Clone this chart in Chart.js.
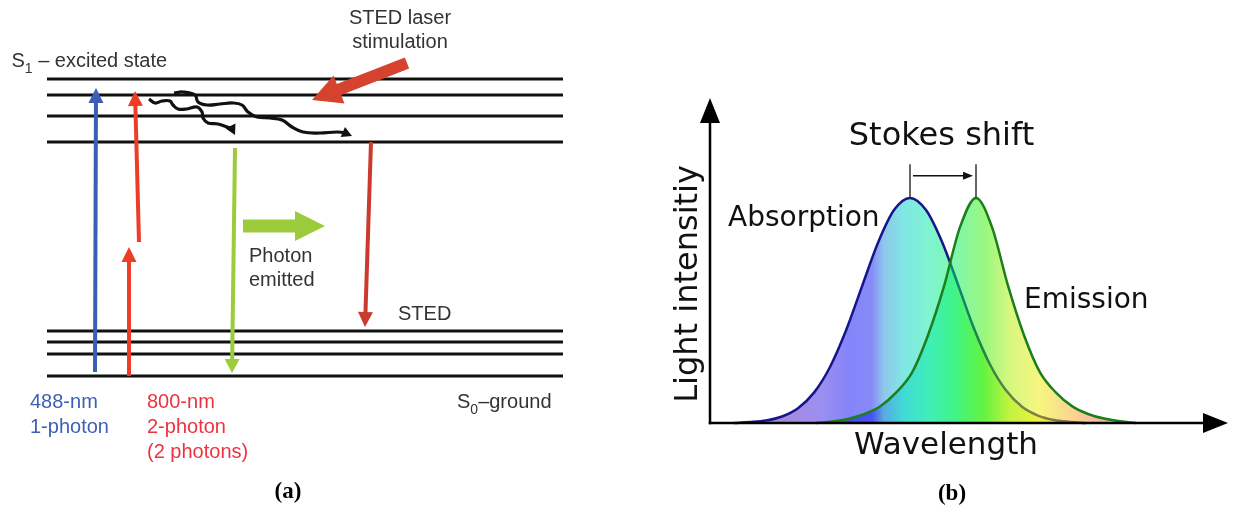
<!DOCTYPE html>
<html>
<head>
<meta charset="utf-8">
<title>STED energy levels and Stokes shift</title>
<script src="https://cdn.jsdelivr.net/npm/chart.js@4.4.1/dist/chart.umd.min.js"></script>
<style>
    html, body { margin: 0; padding: 0; background: #fff; }
    #wrap { position: relative; width: 1233px; height: 505px; overflow: hidden; }
    #levelsChart { position: absolute; left: 0; top: 0; }
    #stokesChart { position: absolute; left: 620px; top: 0; }
</style>
</head>
<body>
<div id="wrap">
    <canvas id="levelsChart" width="620" height="505"></canvas>
    <canvas id="stokesChart" width="613" height="505"></canvas>
</div>
<script>
// --- Panel (a): energy levels (arbitrary energy units) ---
const levelsS0 = [0, 2.2, 3.4, 4.5];
const levelsS1 = [23.4, 26.0, 28.1, 29.7];
const levelRange = [4.7, 56.3];

// transitions, [position, energy]
const blue488 = [[9.5, 0.4], [9.6, 28.8]];
const red800Low = [[12.9, 0], [12.9, 12.9]];
const red800High = [[13.9, 13.4], [13.5, 28.5]];
const greenEmit = [[23.5, 22.8], [23.2, 0.3]];
const photonOut = [[24.3, 15.0], [32.5, 15.0]];
const stedDown = [[37.1, 23.4], [36.5, 4.9]];
const stedLaser = [[40.7, 31.3], [31.2, 27.6]];
const relaxShort = [[14.9, 27.7], [15.5, 27.3], [16.2, 27.5], [17.0, 27.5], [17.3, 27.1], [17.8, 26.7],
    [18.7, 26.7], [19.7, 26.9], [20.2, 26.4], [20.3, 25.8], [20.8, 25.3], [21.8, 25.2], [22.7, 24.9],
    [23.2, 24.7], [23.5, 24.1]];
const relaxLong = [[17.4, 28.3], [18.3, 28.4], [19.5, 28.1], [19.8, 27.4], [20.7, 27.1], [22.0, 27.2],
    [23.3, 27.3], [24.2, 27.1], [24.8, 26.4], [25.7, 25.9], [27.0, 25.8], [28.2, 25.6], [29.2, 24.9],
    [30.3, 24.4], [32.0, 24.3], [33.7, 24.4], [34.5, 24.3], [35.2, 24.0]];

// --- Panel (b): spectra (wavelength nm, relative intensity) ---
const wavelengthAbs = [362, 370, 378, 386, 394, 402, 410, 418, 426, 434, 442, 450, 458, 466, 474, 482, 490, 498, 506, 514, 522, 530, 538];
const absorption = [0, 0.004, 0.011, 0.029, 0.066, 0.135, 0.249, 0.411, 0.607, 0.801, 0.946, 1, 0.946, 0.805, 0.615, 0.42, 0.26, 0.145, 0.072, 0.033, 0.013, 0.005, 0];
const wavelengthEm = [403, 411, 419, 427, 435, 443, 451, 459, 467, 475, 483, 491, 499, 507, 515, 523, 531, 539, 547, 555, 563];
const emission = [0, 0.007, 0.018, 0.039, 0.073, 0.135, 0.224, 0.39, 0.607, 0.87, 1, 0.87, 0.61, 0.39, 0.225, 0.135, 0.075, 0.04, 0.02, 0.008, 0];
const peakAbs = 450;
const peakEm = 483;

// spectrum colours used for the fills (nm -> rgb)
const spectrumStops = [
    [375, '90,10,160'], [405, '58,32,224'], [420, '10,10,245'], [431, '16,24,240'],
    [437, '32,144,216'], [447, '0,208,200'], [460, '0,234,160'], [472, '0,240,96'],
    [487, '48,240,0'], [500, '176,240,0'], [515, '236,236,0'], [530, '248,176,32'],
    [545, '248,112,64'], [565, '248,104,72']
];

const pts = arr => arr.map(([x, y]) => ({ x, y }));

// --- arrow heads: clip the line under the head, then draw the head ---
function headGeometry(chart, index) {
    const ds = chart.data.datasets[index];
    const items = chart.getDatasetMeta(index).data;
    const n = items.length;
    if (!ds.head || n < 2) return null;
    const tip = items[n - 1];
    let fx = items[n - 2].x, fy = items[n - 2].y;
    if (tip.cp1x !== undefined && Math.hypot(tip.x - tip.cp1x, tip.y - tip.cp1y) > 0.5) {
        fx = tip.cp1x;
        fy = tip.cp1y;
    }
    const d = Math.hypot(tip.x - fx, tip.y - fy) || 1;
    const ux = (tip.x - fx) / d, uy = (tip.y - fy) / d;
    return { tx: tip.x, ty: tip.y, ux, uy, nx: -uy, ny: ux, len: ds.head.len, wid: ds.head.width, color: ds.borderColor };
}

const arrowHeads = {
    id: 'arrowHeads',
    beforeDatasetDraw(chart, args) {
        const g = headGeometry(chart, args.index);
        if (!g) return;
        const ctx = chart.ctx, B = 5000;
        const bx = g.tx - g.ux * (g.len - 1), by = g.ty - g.uy * (g.len - 1);
        ctx.save();
        ctx.beginPath();
        ctx.moveTo(bx + g.nx * B, by + g.ny * B);
        ctx.lineTo(bx + g.nx * B - g.ux * B, by + g.ny * B - g.uy * B);
        ctx.lineTo(bx - g.nx * B - g.ux * B, by - g.ny * B - g.uy * B);
        ctx.lineTo(bx - g.nx * B, by - g.ny * B);
        ctx.closePath();
        ctx.clip();
    },
    afterDatasetDraw(chart, args) {
        const g = headGeometry(chart, args.index);
        if (!g) return;
        const ctx = chart.ctx;
        ctx.restore();
        const bx = g.tx - g.ux * g.len, by = g.ty - g.uy * g.len;
        ctx.save();
        ctx.fillStyle = g.color;
        ctx.beginPath();
        ctx.moveTo(g.tx, g.ty);
        ctx.lineTo(bx + g.nx * g.wid / 2, by + g.ny * g.wid / 2);
        ctx.lineTo(bx - g.nx * g.wid / 2, by - g.ny * g.wid / 2);
        ctx.closePath();
        ctx.fill();
        ctx.restore();
    }
};

// --- text labels placed in data coordinates ---
const textLabels = items => ({
    id: 'textLabels',
    afterDraw(chart) {
        const { ctx, scales } = chart;
        items.forEach(it => {
            const px = scales.x.getPixelForValue(it.x);
            const py = scales.y.getPixelForValue(it.y);
            const font = `${it.weight || 'normal'} ${it.size}px ${it.family}`;
            const subFont = `${it.weight || 'normal'} ${Math.round(it.size * 0.68)}px ${it.family}`;
            const parts = it.parts || [{ t: it.text }];
            ctx.save();
            ctx.translate(px, py);
            if (it.rotate) ctx.rotate(it.rotate * Math.PI / 180);
            ctx.fillStyle = it.color;
            ctx.textBaseline = 'alphabetic';
            ctx.textAlign = 'left';
            const w = parts.map(p => { ctx.font = p.sub ? subFont : font; return ctx.measureText(p.t).width; });
            const total = w.reduce((a, b) => a + b, 0);
            let cx = it.align === 'center' ? -total / 2 : 0;
            parts.forEach((p, i) => {
                ctx.font = p.sub ? subFont : font;
                ctx.fillText(p.t, cx, p.sub ? it.size * 0.28 : 0);
                cx += w[i];
            });
            ctx.restore();
        });
    }
});

const hiddenScale = (min, max) => ({ type: 'linear', display: false, min, max });
const baseOptions = (xr, yr, padding) => ({
    responsive: false,
    animation: false,
    events: [],
    layout: { padding },
    scales: { x: hiddenScale(xr[0], xr[1]), y: hiddenScale(yr[0], yr[1]) },
    plugins: { legend: { display: false }, tooltip: { enabled: false } },
    elements: { point: { radius: 0 } }
});

function line(data, color, width, extra) {
    return Object.assign({
        data, borderColor: color, backgroundColor: color, borderWidth: width,
        showLine: true, pointRadius: 0, clip: false, fill: false, order: 0
    }, extra || {});
}

// --- Panel (a) chart ---
const sans = '"Liberation Sans", Arial, sans-serif';
const serif = '"Liberation Serif", "Times New Roman", serif';
const grey = '#333';
const blueText = '#3d5fb5';
const redText = '#ee3340';

const levelSets = [...levelsS0, ...levelsS1].map(e =>
    line([{ x: levelRange[0], y: e }, { x: levelRange[1], y: e }], '#111', 3, { order: 5 }));

new Chart(document.getElementById('levelsChart'), {
    type: 'scatter',
    data: {
        datasets: [
            ...levelSets,
            line(pts(blue488), '#3b5db5', 4, { head: { len: 15, width: 15 } }),
            line(pts(red800Low), '#ee3d26', 4, { head: { len: 15, width: 15 } }),
            line(pts(red800High), '#ee3d26', 4, { head: { len: 15, width: 15 } }),
            line(pts(greenEmit), '#9ccb3b', 4, { head: { len: 14, width: 15 } }),
            line(pts(photonOut), '#9ccb3b', 13, { head: { len: 30, width: 30 } }),
            line(pts(stedDown), '#cc3a2d', 4, { head: { len: 15, width: 15 } }),
            line(pts(stedLaser), '#d5432f', 12, { head: { len: 29, width: 30 } }),
            line(pts(relaxShort), '#111', 3.2, { tension: 0.4, head: { len: 10, width: 11 } }),
            line(pts(relaxLong), '#111', 3.2, { tension: 0.4, head: { len: 10, width: 11 } })
        ]
    },
    options: baseOptions([0, 62], [-12.9, 37.6], 0),
    plugins: [arrowHeads, textLabels([
        { x: 1.15, y: 30.9, size: 20, family: sans, color: grey,
          parts: [{ t: 'S' }, { t: '1', sub: true }, { t: ' \u2013 excited state' }] },
        { x: 40.0, y: 35.2, text: 'STED laser', align: 'center', size: 20, family: sans, color: grey },
        { x: 40.0, y: 32.8, text: 'stimulation', align: 'center', size: 20, family: sans, color: grey },
        { x: 24.9, y: 11.4, text: 'Photon', size: 20, family: sans, color: grey },
        { x: 24.9, y: 9.0, text: 'emitted', size: 20, family: sans, color: grey },
        { x: 39.8, y: 5.6, text: 'STED', size: 20, family: sans, color: grey },
        { x: 45.7, y: -3.2, size: 20, family: sans, color: grey,
          parts: [{ t: 'S' }, { t: '0', sub: true }, { t: '\u2013ground' }] },
        { x: 3.0, y: -3.2, text: '488-nm', size: 20, family: sans, color: blueText },
        { x: 3.0, y: -5.7, text: '1-photon', size: 20, family: sans, color: blueText },
        { x: 14.7, y: -3.2, text: '800-nm', size: 20, family: sans, color: redText },
        { x: 14.7, y: -5.7, text: '2-photon', size: 20, family: sans, color: redText },
        { x: 14.7, y: -8.2, text: '(2 photons)', size: 20, family: sans, color: redText },
        { x: 28.8, y: -12.2, text: '(a)', align: 'center', size: 23, weight: 'bold', family: serif, color: '#000' }
    ])]
});

// --- Panel (b) chart ---
const dejavu = '"DejaVu Sans", Verdana, sans-serif';
const xMin = 350, xMax = 609, yMax = 1.444;

function spectrumFill(ctx) {
    const chart = ctx.chart;
    if (!chart.chartArea) return 'rgba(0,0,0,0)';
    const xs = chart.scales.x;
    const lo = spectrumStops[0][0], hi = spectrumStops[spectrumStops.length - 1][0];
    const g = chart.ctx.createLinearGradient(xs.getPixelForValue(lo), 0, xs.getPixelForValue(hi), 0);
    spectrumStops.forEach(([nm, rgb]) => g.addColorStop((nm - lo) / (hi - lo), `rgba(${rgb},0.5)`));
    return g;
}

new Chart(document.getElementById('stokesChart'), {
    type: 'scatter',
    data: {
        datasets: [
            line(wavelengthAbs.map((x, i) => ({ x, y: absorption[i] })), '#16168a', 2.5,
                { fill: 'origin', backgroundColor: spectrumFill, cubicInterpolationMode: 'monotone', order: 2 }),
            line(wavelengthEm.map((x, i) => ({ x, y: emission[i] })), '#1b7f1b', 2.5,
                { fill: 'origin', backgroundColor: spectrumFill, cubicInterpolationMode: 'monotone', order: 1 }),
            line([{ x: peakAbs, y: 1 }, { x: peakAbs, y: 1.15 }], '#333', 1.5),
            line([{ x: peakEm, y: 1 }, { x: peakEm, y: 1.15 }], '#333', 1.5),
            line([{ x: peakAbs + 1.5, y: 1.098 }, { x: peakEm - 1.5, y: 1.098 }], '#111', 1.5, { head: { len: 10, width: 8 } }),
            line([{ x: xMin, y: 0 }, { x: xMin, y: yMax }], '#000', 2.5, { borderCapStyle: 'square', head: { len: 25, width: 20 }, order: -1 }),
            line([{ x: xMin, y: 0 }, { x: xMax, y: 0 }], '#000', 2.5, { borderCapStyle: 'square', head: { len: 25, width: 20 }, order: -1 })
        ]
    },
    options: baseOptions([xMin, xMax], [0, yMax], { left: 90, right: 5, top: 98, bottom: 82 }),
    plugins: [arrowHeads, textLabels([
        { x: 465.75, y: 1.236, text: 'Stokes shift', align: 'center', size: 32, family: dejavu, color: '#111' },
        { x: 359, y: 0.876, text: 'Absorption', size: 28, family: dejavu, color: '#111' },
        { x: 507, y: 0.511, text: 'Emission', size: 28, family: dejavu, color: '#111' },
        { x: 468, y: -0.138, text: 'Wavelength', align: 'center', size: 31, family: dejavu, color: '#111' },
        { x: 343.5, y: 0.618, text: 'Light intensitiy', align: 'center', rotate: -90, size: 32, family: dejavu, color: '#111' },
        { x: 471, y: -0.342, text: '(b)', align: 'center', size: 23, weight: 'bold', family: serif, color: '#000' }
    ])]
});
</script>
</body>
</html>
